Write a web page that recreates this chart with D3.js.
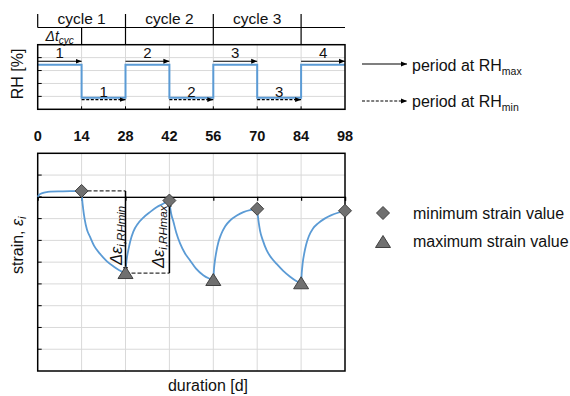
<!DOCTYPE html>
<html>
<head>
<meta charset="utf-8">
<script src="https://cdn.jsdelivr.net/npm/d3@7"></script>
<style>
  html, body { margin: 0; padding: 0; background: #fff; }
  svg { display: block; font-family: "Liberation Sans", Arial, sans-serif; }
</style>
</head>
<body>
<svg id="chart" width="570" height="396"></svg>
<script>
// ---------------- data ----------------
const dayTicks = [0, 14, 28, 42, 56, 70, 84, 98];
const cycleLabels = ["cycle 1", "cycle 2", "cycle 3"];
const cycleBounds = [0, 28, 56, 84];
const rhDays = [0, 14, 28, 42, 56, 70, 84, 98];
const rhValues = [69, 18, 69, 18, 69, 18, 69, 69];
const rhTicks = [0, 20, 40, 60, 80, 100];
const maxPeriodStarts = [0, 28, 56, 84];
const maxPeriodLabels = ["1", "2", "3", "4"];
const minPeriodStarts = [14, 42, 70];
const minPeriodLabels = ["1", "2", "3"];
const periodLength = 14;

const strainDays = [
  0, 0.5, 1.5, 3, 4, 8, 14,
  14.2, 14.5, 15, 15.7, 16.7, 18, 19.9, 22, 24.2, 26, 28,
  28.2, 28.5, 28.9, 29.5, 30.5, 32, 33.7, 36, 37.9, 40, 42,
  42.2, 42.6, 43.2, 44.2, 45.4, 47, 48.6, 50.5, 52.8, 54.5, 56,
  56.2, 56.5, 57, 57.6, 58.5, 59.8, 61.4, 63.5, 65.6, 68, 70,
  70.2, 70.5, 70.9, 71.8, 73, 74.5, 76.2, 78.3, 80.5, 82.3, 84,
  84.2, 84.5, 85, 85.6, 86.5, 87.8, 89.3, 91.5, 93.5, 96, 98
];
const strainValues = [
  0, 0.1, 0.17, 0.22, 0.24, 0.25, 0.27,
  -0.15, -0.55, -1.05, -1.5, -1.84, -2.25, -2.62, -2.95, -3.2, -3.37, -3.5,
  -3.1, -2.75, -2.45, -2.05, -1.6, -1.22, -0.95, -0.68, -0.48, -0.32, -0.17,
  -0.45, -0.8, -1.1, -1.65, -2.14, -2.6, -2.92, -3.3, -3.6, -3.74, -3.82,
  -3.35, -2.95, -2.5, -2.1, -1.72, -1.35, -1.08, -0.86, -0.7, -0.6, -0.55,
  -0.85, -1.2, -1.55, -2.0, -2.45, -2.8, -3.08, -3.4, -3.67, -3.85, -3.97,
  -3.5, -3.05, -2.6, -2.2, -1.8, -1.45, -1.23, -1.0, -0.85, -0.72, -0.64
];
const minStrainDays = [14, 42, 70, 98];
const minStrainValues = [0.27, -0.17, -0.55, -0.64];
const maxStrainDays = [28, 56, 84];
const maxStrainValues = [-3.5, -3.82, -3.97];
const strainTicks = [-8, -7, -6, -5, -4, -3, -2, -1, 0, 1, 2];

// ---------------- setup ----------------
const svg = d3.select("#chart");
const BLUE = "#5b9bd5", GRID = "#d9d9d9", FONT = "#111";
const x = d3.scaleLinear().domain([0, 98]).range([37.7, 345]);
const yRH = d3.scaleLinear().domain([0, 100]).range([109.3, 44.7]);
const yS = d3.scaleLinear().domain([-8, 2]).range([371, 153.3]);

const defs = svg.append("defs");
defs.append("marker").attr("id", "ah").attr("viewBox", "0 0 10 10")
  .attr("refX", 10).attr("refY", 5).attr("markerWidth", 6).attr("markerHeight", 6)
  .attr("markerUnits", "userSpaceOnUse").attr("orient", "auto")
  .append("path").attr("d", "M0,1 L10,5 L0,9 Z").attr("fill", "#000");

// ---------------- header (cycles) ----------------
const hdr = svg.append("g");
hdr.append("line").attr("x1", x(0)).attr("x2", x(98)).attr("y1", 27.5).attr("y2", 27.5)
  .attr("stroke", "#000").attr("stroke-width", 1.2);
hdr.append("line").attr("x1", x(0)).attr("x2", x(0)).attr("y1", 14).attr("y2", 27.5)
  .attr("stroke", "#000").attr("stroke-width", 1.2);
hdr.selectAll(".cb").data(cycleBounds.slice(1)).join("line")
  .attr("x1", d => x(d)).attr("x2", d => x(d)).attr("y1", 14).attr("y2", 44.7)
  .attr("stroke", "#000").attr("stroke-width", 1.2);
hdr.append("line").attr("x1", x(14)).attr("x2", x(14)).attr("y1", 27.5).attr("y2", 44.7)
  .attr("stroke", "#000").attr("stroke-width", 1.2);
hdr.selectAll(".cl").data(cycleLabels).join("text")
  .attr("x", (d, i) => x(cycleBounds[i] + 14)).attr("y", 23.5)
  .attr("text-anchor", "middle").attr("font-size", 15.5).attr("fill", FONT).text(d => d);
const dt = hdr.append("text").attr("x", x(7)).attr("y", 41).attr("text-anchor", "middle")
  .attr("font-size", 14).attr("font-style", "italic").attr("fill", FONT);
dt.append("tspan").text("Δt");
dt.append("tspan").attr("font-size", 10).attr("dy", 3).text("cyc");

// ---------------- RH panel ----------------
const rh = svg.append("g");
rh.selectAll(".vg").data(dayTicks.slice(1, -1)).join("line")
  .attr("x1", d => x(d)).attr("x2", d => x(d)).attr("y1", yRH(100)).attr("y2", yRH(0))
  .attr("stroke", GRID).attr("stroke-width", 1);
rh.selectAll(".hg").data(rhTicks.slice(1, -1)).join("line")
  .attr("x1", x(0)).attr("x2", x(98)).attr("y1", d => yRH(d)).attr("y2", d => yRH(d))
  .attr("stroke", GRID).attr("stroke-width", 1);
rh.selectAll(".lt").data(rhTicks.slice(1, -1)).join("line")
  .attr("x1", x(0)).attr("x2", x(0) + 4).attr("y1", d => yRH(d)).attr("y2", d => yRH(d))
  .attr("stroke", "#000").attr("stroke-width", 1);
rh.selectAll(".bt").data(dayTicks.slice(1, -1)).join("line")
  .attr("x1", d => x(d)).attr("x2", d => x(d)).attr("y1", yRH(0)).attr("y2", yRH(0) - 3)
  .attr("stroke", "#000").attr("stroke-width", 1);
rh.append("path")
  .datum(rhDays.map((d, i) => [d, rhValues[i]]))
  .attr("fill", "none").attr("stroke", BLUE).attr("stroke-width", 2)
  .attr("d", d3.line().x(d => x(d[0])).y(d => yRH(d[1])).curve(d3.curveStepAfter));
rh.append("rect").attr("x", x(0)).attr("y", yRH(100)).attr("width", x(98) - x(0))
  .attr("height", yRH(0) - yRH(100)).attr("fill", "none").attr("stroke", "#000").attr("stroke-width", 1.5);
const hiY = yRH(rhValues[0]) - 3.5, loY = yRH(rhValues[1]) + 2;
rh.selectAll(".ma").data(maxPeriodStarts).join("line")
  .attr("x1", d => x(d)).attr("x2", d => x(d + periodLength)).attr("y1", hiY).attr("y2", hiY)
  .attr("stroke", "#000").attr("stroke-width", 1.2).attr("marker-end", "url(#ah)");
rh.selectAll(".ml").data(maxPeriodStarts).join("text")
  .attr("x", d => x(d + periodLength / 2)).attr("y", hiY - 3)
  .attr("text-anchor", "middle").attr("font-size", 15).attr("fill", FONT)
  .text((d, i) => maxPeriodLabels[i]);
rh.selectAll(".na").data(minPeriodStarts).join("line")
  .attr("x1", d => x(d)).attr("x2", d => x(d + periodLength)).attr("y1", loY).attr("y2", loY)
  .attr("stroke", "#000").attr("stroke-width", 1.2).attr("stroke-dasharray", "3,1.6")
  .attr("marker-end", "url(#ah)");
rh.selectAll(".nl").data(minPeriodStarts).join("text")
  .attr("x", d => x(d + periodLength / 2)).attr("y", loY - 3)
  .attr("text-anchor", "middle").attr("font-size", 15).attr("fill", FONT)
  .text((d, i) => minPeriodLabels[i]);
rh.append("text").attr("transform", "translate(23,74) rotate(-90)")
  .attr("text-anchor", "middle").attr("font-size", 16).attr("fill", FONT).text("RH [%]");

// ---------------- day tick labels ----------------
svg.append("g").selectAll("text").data(dayTicks).join("text")
  .attr("x", d => x(d)).attr("y", 140.5).attr("text-anchor", "middle")
  .attr("font-size", 14.5).attr("font-weight", "bold").attr("fill", FONT).text(d => d);

// ---------------- strain panel ----------------
const st = svg.append("g");
st.selectAll(".vg").data(dayTicks.slice(1, -1)).join("line")
  .attr("x1", d => x(d)).attr("x2", d => x(d)).attr("y1", yS(2)).attr("y2", yS(-8))
  .attr("stroke", GRID).attr("stroke-width", 1);
st.selectAll(".hg").data(strainTicks.slice(1, -1)).join("line")
  .attr("x1", x(0)).attr("x2", x(98)).attr("y1", d => yS(d)).attr("y2", d => yS(d))
  .attr("stroke", GRID).attr("stroke-width", 1);
st.selectAll(".lt").data(strainTicks.slice(1, -1)).join("line")
  .attr("x1", x(0)).attr("x2", x(0) + 4).attr("y1", d => yS(d)).attr("y2", d => yS(d))
  .attr("stroke", "#000").attr("stroke-width", 1);
st.append("g").attr("transform", `translate(0,${yS(0)})`)
  .call(d3.axisBottom(x).tickValues(dayTicks.slice(1)).tickSize(4).tickFormat(""))
  .call(g => g.select(".domain").attr("stroke", "#000").attr("stroke-width", 1.3))
  .call(g => g.selectAll(".tick line").attr("stroke", "#000").attr("stroke-width", 1.2));
st.append("rect").attr("x", x(0)).attr("y", yS(2)).attr("width", x(98) - x(0))
  .attr("height", yS(-8) - yS(2)).attr("fill", "none").attr("stroke", "#000").attr("stroke-width", 1.5);
st.append("path")
  .datum(strainDays.map((d, i) => [d, strainValues[i]]))
  .attr("fill", "none").attr("stroke", BLUE).attr("stroke-width", 1.8)
  .attr("d", d3.line().x(d => x(d[0])).y(d => yS(d[1])).curve(d3.curveMonotoneX));
const ann = st.append("g");
ann.append("line").attr("x1", x(minStrainDays[0])).attr("x2", x(maxStrainDays[0]))
  .attr("y1", yS(minStrainValues[0])).attr("y2", yS(minStrainValues[0]))
  .attr("stroke", "#333").attr("stroke-width", 1.3).attr("stroke-dasharray", "4,2");
ann.append("line").attr("x1", x(maxStrainDays[0])).attr("x2", x(maxStrainDays[0]))
  .attr("y1", yS(minStrainValues[0])).attr("y2", yS(maxStrainValues[0]))
  .attr("stroke", "#000").attr("stroke-width", 1.5).attr("marker-end", "url(#ah)");
ann.append("line").attr("x1", x(maxStrainDays[0])).attr("x2", x(minStrainDays[1]))
  .attr("y1", yS(maxStrainValues[0])).attr("y2", yS(maxStrainValues[0]))
  .attr("stroke", "#333").attr("stroke-width", 1.3).attr("stroke-dasharray", "4,2");
ann.append("line").attr("x1", x(minStrainDays[1])).attr("x2", x(minStrainDays[1]))
  .attr("y1", yS(maxStrainValues[0])).attr("y2", yS(minStrainValues[1]))
  .attr("stroke", "#000").attr("stroke-width", 1.5).attr("marker-end", "url(#ah)");
function deltaLabel(px, py, sub) {
  const t = ann.append("text").attr("transform", `translate(${px},${py}) rotate(-90)`)
    .attr("font-size", 16.5).attr("font-style", "italic").attr("fill", FONT);
  t.append("tspan").text("Δε");
  t.append("tspan").attr("font-size", 11.5).attr("dy", 3).text(sub);
}
deltaLabel(x(maxStrainDays[0]) - 4, 265, "i,RHmin");
deltaLabel(x(minStrainDays[1]) - 5, 268, "i,RHmax");
const diamond = "M0,-6.5 L6.5,0 L0,6.5 L-6.5,0 Z";
const tri = "M0,-6.5 L7.5,5.5 L-7.5,5.5 Z";
st.selectAll(".dm").data(minStrainDays).join("path")
  .attr("transform", (d, i) => `translate(${x(d)},${yS(minStrainValues[i])})`)
  .attr("d", diamond).attr("fill", "#707070").attr("stroke", "#404040").attr("stroke-width", 1);
st.selectAll(".tr").data(maxStrainDays).join("path")
  .attr("transform", (d, i) => `translate(${x(d)},${yS(maxStrainValues[i])})`)
  .attr("d", tri).attr("fill", "#707070").attr("stroke", "#404040").attr("stroke-width", 1);
const sl = svg.append("text").attr("transform", "translate(23,274) rotate(-90)")
  .attr("font-size", 16).attr("fill", FONT);
sl.append("tspan").text("strain, ");
sl.append("tspan").attr("font-style", "italic").text("ε");
sl.append("tspan").attr("font-style", "italic").attr("font-size", 11).attr("dy", 3).text("i");
svg.append("text").attr("x", 208).attr("y", 391).attr("text-anchor", "middle")
  .attr("font-size", 16).attr("fill", FONT).text("duration [d]");

// ---------------- legends ----------------
const lg = svg.append("g");
lg.append("line").attr("x1", 362).attr("x2", 407).attr("y1", 64).attr("y2", 64)
  .attr("stroke", "#000").attr("stroke-width", 1.2).attr("marker-end", "url(#ah)");
lg.append("line").attr("x1", 362).attr("x2", 407).attr("y1", 101).attr("y2", 101)
  .attr("stroke", "#000").attr("stroke-width", 1.2).attr("stroke-dasharray", "3,1.6")
  .attr("marker-end", "url(#ah)");
function rhLegend(y, sub) {
  const t = lg.append("text").attr("x", 412).attr("y", y).attr("font-size", 16).attr("fill", FONT);
  t.append("tspan").text("period at RH");
  t.append("tspan").attr("font-size", 10.5).attr("dy", 4).text(sub);
}
rhLegend(70.5, "max");
rhLegend(107, "min");
lg.append("path").attr("transform", "translate(383,213)").attr("d", diamond)
  .attr("fill", "#707070").attr("stroke", "#404040").attr("stroke-width", 1);
lg.append("path").attr("transform", "translate(383,242)").attr("d", tri)
  .attr("fill", "#707070").attr("stroke", "#404040").attr("stroke-width", 1);
lg.append("text").attr("x", 413).attr("y", 218.5).attr("font-size", 16).attr("fill", FONT)
  .text("minimum strain value");
lg.append("text").attr("x", 413).attr("y", 247).attr("font-size", 16).attr("fill", FONT)
  .text("maximum strain value");
</script>
</body>
</html>
